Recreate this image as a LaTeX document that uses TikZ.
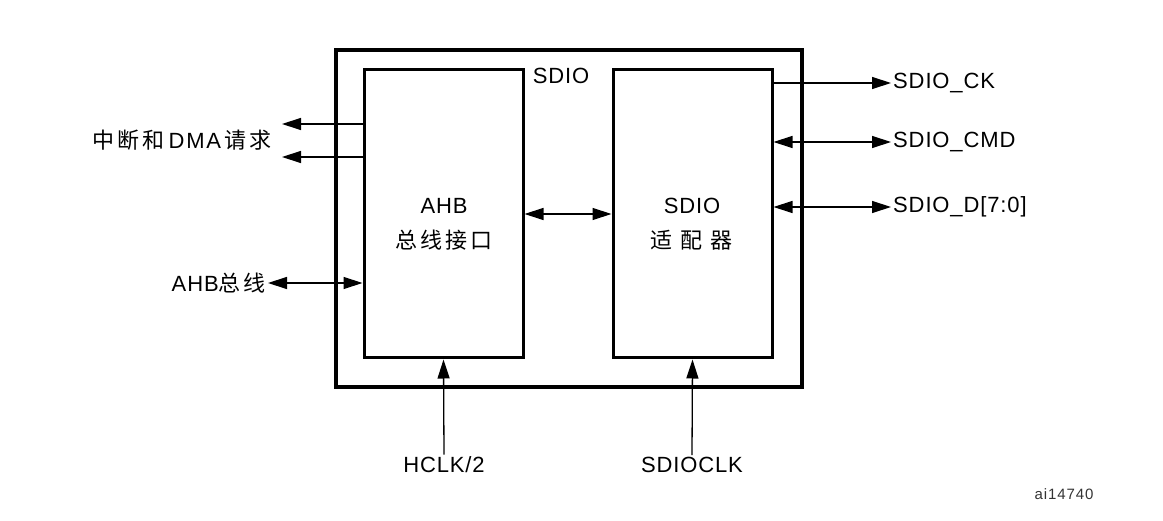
\documentclass[tikz,border=0pt]{standalone}
\usepackage{fontspec}
\setmainfont{Liberation Sans}[LetterSpace=4]
\newfontfamily\cjk{Noto Sans CJK SC}[LetterSpace=14]
\usetikzlibrary{arrows.meta,positioning}

\tikzset{
  >={Triangle[length=19pt,width=12pt]},
  wire/.style={line width=1.3pt},
  blockbox/.style={draw,line width=3pt,minimum width=159pt,minimum height=288pt},
  lbl/.style={font=\fontsize{22}{26}\selectfont,inner sep=2pt}
}

\begin{document}
\begin{tikzpicture}[x=1pt,y=-1pt]
\useasboundingbox (0,0) rectangle (1163,521);
% outer box and the two blocks
\node[draw,line width=4pt,minimum width=466pt,minimum height=337pt] (sdio) at (569,218.5) {};
\node[blockbox] (ahb) at (443.5,214) {};
\node[blockbox] (adp) at (692.5,214) {};
\node[lbl] (sdiol) at (561,76) {SDIO};
\node[lbl,align=center] (ahbt) at (444,224) {AHB\\[9pt]\cjk 总线接口};
\node[lbl,align=center] (adpt) at (692,224) {SDIO\\[9pt]\cjk 适 配 器};
% left side
\node[lbl,anchor=east] (irql) at (274,140) {\cjk 中断和\,{\rmfamily\addfontfeatures{LetterSpace=8}DMA}\,请求};
\coordinate (irqa) at (282,124);
\coordinate (irqb) at (282,157);
\draw[wire,->] (ahb.west|-irqa) -- (irqa);
\draw[wire,->] (ahb.west|-irqb) -- (irqb);
\node[lbl,anchor=east] (busl) at (268,283) {AHB{\cjk 总线}};
\draw[wire,<->] (busl.east) -- (ahb.west|-busl.east);
% between blocks
\draw[wire,<->] (ahb.east) -- (adp.west);
% right side
\node[lbl,anchor=west] (ckl) at (891,83) {SDIO\_CK};
\node[lbl,anchor=west] (cmdl) at (891,142) {SDIO\_CMD};
\node[lbl,anchor=west] (datl) at (891,207) {SDIO\_D[7:0]};
\draw[wire,->] (adp.east|-ckl.west) -- (ckl.west);
\draw[wire,<->] (adp.east|-cmdl.west) -- (cmdl.west);
\draw[wire,<->] (adp.east|-datl.west) -- (datl.west);
% clocks
\node[lbl] (hclk) at (444,465) {HCLK/2};
\node[lbl] (sclk) at (692,465) {SDIOCLK};
\draw[wire,->] (hclk.north) -- (ahb.south);
\draw[wire,->] (sclk.north) -- (adp.south);
\node[font=\fontsize{15}{17}\selectfont\addfontfeatures{LetterSpace=6},text=black!80] (ref) at (1064,494) {ai14740};
\end{tikzpicture}
\end{document}
